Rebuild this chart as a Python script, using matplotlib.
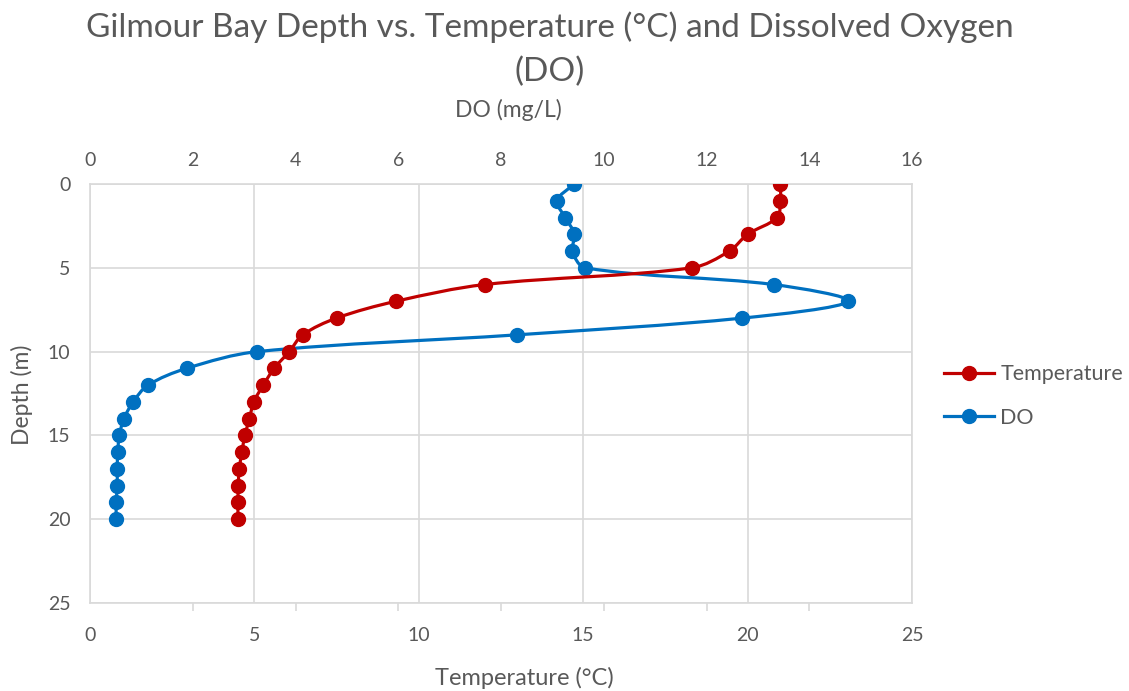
import numpy as np
import matplotlib
matplotlib.use("Agg")
import matplotlib.pyplot as plt
from matplotlib.path import Path
from matplotlib.patches import PathPatch
from matplotlib.lines import Line2D

# ---------------- data ----------------
depth = [0, 1, 2, 3, 4, 5, 6, 7, 8, 9, 10, 11, 12, 13, 14, 15, 16, 17, 18, 19, 20]
temperature = [21.0, 21.0, 20.9, 20.0, 19.45, 18.3, 12.0, 9.3, 7.5, 6.47, 6.06,
               5.6, 5.27, 4.98, 4.85, 4.71, 4.62, 4.54, 4.51, 4.5, 4.5]
dissolved_oxygen = [9.42, 9.09, 9.25, 9.43, 9.39, 9.64, 13.31, 14.76, 12.7, 8.31, 3.26,
                    1.88, 1.13, 0.84, 0.66, 0.57, 0.54, 0.53, 0.53, 0.51, 0.51]
temp_ticks = [0, 5, 10, 15, 20, 25]
do_ticks = [0, 2, 4, 6, 8, 10, 12, 14, 16]
depth_ticks = [0, 5, 10, 15, 20, 25]

RED = "#C00000"
BLUE = "#0070C0"
GRID = "#D9D9D9"
TXT = "#595959"

plt.rcParams['font.family'] = ['Lato', 'DejaVu Sans']


def smooth_path(xs, ys, trans):
    """Excel-like smoothed line: cubic Bezier through the points, tangents
    weighted by neighbouring segment lengths (measured on screen)."""
    pts = np.column_stack([xs, ys]).astype(float)
    pix = trans.transform(pts)
    n = len(pts)
    verts = [pts[0]]
    codes = [Path.MOVETO]
    for i in range(n - 1):
        i0 = max(i - 1, 0)
        i3 = min(i + 2, n - 1)
        p0, p1, p2, p3 = pts[i0], pts[i], pts[i + 1], pts[i3]
        d01 = np.hypot(*(pix[i] - pix[i0]))
        d12 = np.hypot(*(pix[i + 1] - pix[i]))
        d23 = np.hypot(*(pix[i3] - pix[i + 1]))
        f1 = d12 / (d01 + d12) / 3.0 if (d01 + d12) > 0 else 0
        f2 = d12 / (d12 + d23) / 3.0 if (d12 + d23) > 0 else 0
        c1 = p1 + (p2 - p0) * f1
        c2 = p2 - (p3 - p1) * f2
        verts += [c1, c2, p2]
        codes += [Path.CURVE4] * 3
    return Path(verts, codes)


fig = plt.figure(figsize=(11.29, 6.91), dpi=100)
ax = fig.add_axes([90 / 1129, 1 - 603 / 691, 822 / 1129, 419 / 691])
ax.set_xlim(temp_ticks[0], temp_ticks[-1])
ax.set_ylim(depth_ticks[-1], depth_ticks[0])
ax.set_xticks(temp_ticks)
ax.set_yticks(depth_ticks)
ax.grid(True, color=GRID, lw=1.2)
ax.set_axisbelow(True)
for s in ax.spines.values():
    s.set_color(GRID)
    s.set_linewidth(1.2)
ax.tick_params(axis='x', which='major', length=0, labelsize=14, labelcolor=TXT, pad=17)
ax.tick_params(axis='y', which='major', length=0, labelsize=14, labelcolor=TXT, pad=14)
ax.set_xticks(np.linspace(temp_ticks[0], temp_ticks[-1], len(do_ticks)), minor=True)
ax.tick_params(axis='x', which='minor', length=6, color=GRID, width=1.2, direction='out')
ax.set_xlabel("Temperature (°C)", fontsize=17, color=TXT)
ax.xaxis.set_label_coords((524 - 90) / 822, (13 - 88) / 419)
ax.xaxis.label.set_va('center')
ax.set_ylabel("Depth (m)", fontsize=16.5, color=TXT)
ax.yaxis.set_label_coords((22 - 90) / 822, (691 - 395 - 88) / 419)
ax.yaxis.label.set_va('center')

ax2 = ax.twiny()
ax2.set_xlim(do_ticks[0], do_ticks[-1])
ax2.set_ylim(depth_ticks[-1], depth_ticks[0])
ax2.set_xticks(do_ticks)
ax2.tick_params(axis='x', length=0, labelsize=14, labelcolor=TXT, pad=10.5)
for s in ax2.spines.values():
    s.set_visible(False)
ax2.set_xlabel("DO (mg/L)", fontsize=16.5, color=TXT)
ax2.xaxis.set_label_coords((508 - 90) / 822, (691 - 110 - 88) / 419)
ax2.xaxis.label.set_va('center')

# DO series on top axis
ax2.add_patch(PathPatch(smooth_path(dissolved_oxygen, depth, ax2.transData),
                        facecolor='none', edgecolor=BLUE, lw=2.3, zorder=3,
                        capstyle='round'))
ax2.plot(dissolved_oxygen, depth, ls='none', marker='o', ms=10, color=BLUE, zorder=4)

# Temperature series on bottom axis (drawn in ax2 so it sits on top)
ax2.add_patch(PathPatch(smooth_path(temperature, depth, ax.transData),
                        facecolor='none', edgecolor=RED, lw=2.3, zorder=5,
                        capstyle='round', transform=ax.transData))
ax2.plot(temperature, depth, ls='none', marker='o', ms=10, color=RED, zorder=6,
         transform=ax.transData)
ax2.set_xlim(do_ticks[0], do_ticks[-1])
ax2.set_ylim(depth_ticks[-1], depth_ticks[0])

fig.text(0.487, 1 - 27 / 691, "Gilmour Bay Depth vs. Temperature (°C) and Dissolved Oxygen",
         ha='center', va='center', fontsize=24, color=TXT)
fig.text(0.487, 1 - 72 / 691, "(DO)", ha='center', va='center', fontsize=24, color=TXT)

handles = [Line2D([], [], color=RED, lw=2.3, marker='o', ms=10),
           Line2D([], [], color=BLUE, lw=2.3, marker='o', ms=10)]
fig.legend(handles, ["Temperature", "DO"], loc='center left',
           bbox_to_anchor=(925 / 1129, 1 - 396 / 691), frameon=False,
           fontsize=15.5, labelcolor=TXT, handlelength=2.3, handletextpad=0.3,
           labelspacing=1.1)

fig.savefig("out.png", dpi=100)
